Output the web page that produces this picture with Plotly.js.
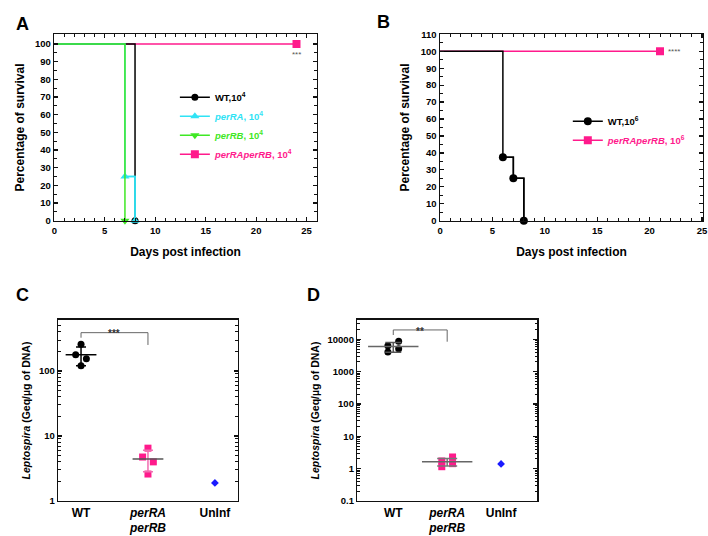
<!DOCTYPE html>
<html>
<head>
<meta charset="utf-8">
<script src="https://cdn.plot.ly/plotly-3.0.1.min.js"></script>
<style>html,body{margin:0;padding:0;background:#fff;}#chart{width:708px;height:536px;}</style>
</head>
<body>
<div id="chart"></div>
<script>
// ---------- Panel A: survival, 10^4 ----------
const daysWT_A = [0, 8];
const survWT_A = [100, 0];
const daysPerRA_A = [0, 7, 8];
const survPerRA_A = [100, 25, 0];
const daysPerRB_A = [0, 7];
const survPerRB_A = [100, 0];
const daysDbl_A = [0, 24];
const survDbl_A = [100, 100];
// ---------- Panel B: survival, 10^6 ----------
const daysWT_B = [0, 6, 7, 8];
const survWT_B = [100, 37.5, 25, 0];
const daysDbl_B = [0, 21];
const survDbl_B = [100, 100];
// ---------- Panel C: bacterial load ----------
const groupLabels = ['WT', '<i>perRA</i><br><i>perRB</i>', 'UnInf'];
const C_wt = [257, 178, 155, 120];
const C_wtJitter = [0, -0.08, 0.08, 0];
const C_dbl = [6.5, 4.75, 4.0, 2.6];
const C_dblJitter = [0, -0.08, 0.08, 0];
const C_uninf = [1.9];
const C_means = [178, 4.43];
const C_sds = [57, 1.6];
// ---------- Panel D: bacterial load ----------
const D_wt = [8800, 6300, 5100, 4100];
const D_wtJitter = [0.1, -0.1, 0.1, -0.1];
const D_dbl = [2.3, 1.73, 1.43, 1.15];
const D_dblJitter = [0.1, -0.1, 0.1, -0.1];
const D_uninf = [1.4];
const D_means = [6000, 1.65];
const D_sds = [2000, 0.43];
const C_yTicks = [1, 10, 100];
const C_yTickText = ['1', '10', '100'];
const D_yTicks = [0.1, 1, 10, 100, 1000, 10000];
const D_yTickText = ['0.1', '1', '10', '100', '1000', '10000'];

const FONT = 'Liberation Sans, Arial, sans-serif';
const BLACK = '#000000', CYAN = '#2fe3f5', GREEN = '#3fe824', PINK = '#ff1a8c', BLUE = '#1a1aff';

function stepLine(xs, ys, color, xa, ya) {
  return {x: xs, y: ys, xaxis: xa, yaxis: ya, mode: 'lines', line: {shape: 'hv', color: color, width: 1.5},
    showlegend: false, hoverinfo: 'skip', cliponaxis: false};
}
function events(xs, ys, color, symbol, size, name, legend, rank, xa, ya) {
  return {x: xs.slice(1), y: ys.slice(1), xaxis: xa, yaxis: ya, mode: 'lines+markers', name: name,
    line: {shape: 'hv', color: color, width: 1.5}, marker: {symbol: symbol, size: size, color: color},
    legend: legend, legendrank: rank, cliponaxis: false};
}
function span(color, t) { return '<span style="color:' + color + '">' + t + '</span>'; }

const traces = [];
// A (drawing order: pink, black, cyan, green)
traces.push(stepLine(daysDbl_A, survDbl_A, PINK, 'x', 'y'));
traces.push(events(daysDbl_A, survDbl_A, PINK, 'square', 8, span(PINK, '<i>perRAperRB</i>, 10<sup>4</sup>'), 'legend', 4, 'x', 'y'));
traces.push(stepLine(daysWT_A, survWT_A, BLACK, 'x', 'y'));
traces.push(events(daysWT_A, survWT_A, BLACK, 'circle', 7, 'WT,10<sup>4</sup>', 'legend', 1, 'x', 'y'));
traces.push(stepLine(daysPerRA_A, survPerRA_A, CYAN, 'x', 'y'));
traces.push(events(daysPerRA_A, survPerRA_A, CYAN, 'triangle-up', 8, span(CYAN, '<i>perRA</i>, 10<sup>4</sup>'), 'legend', 2, 'x', 'y'));
traces.push(stepLine(daysPerRB_A, survPerRB_A, GREEN, 'x', 'y'));
traces.push(events(daysPerRB_A, survPerRB_A, GREEN, 'triangle-down', 8, span(GREEN, '<i>perRB</i>, 10<sup>4</sup>'), 'legend', 3, 'x', 'y'));
// B
traces.push(stepLine(daysDbl_B, survDbl_B, PINK, 'x2', 'y2'));
traces.push(events(daysDbl_B, survDbl_B, PINK, 'square', 8, span(PINK, '<i>perRAperRB</i>, 10<sup>6</sup>'), 'legend2', 2, 'x2', 'y2'));
traces.push(stepLine(daysWT_B, survWT_B, BLACK, 'x2', 'y2'));
traces.push(events(daysWT_B, survWT_B, BLACK, 'circle', 8, 'WT,10<sup>6</sup>', 'legend2', 1, 'x2', 'y2'));

function pts(vals, jit, gi, color, symbol, size, xa, ya) {
  return {x: vals.map((v, i) => gi + jit[i]), y: vals, xaxis: xa, yaxis: ya, mode: 'markers',
    marker: {symbol: symbol, size: size, color: color}, showlegend: false, cliponaxis: false};
}
function meanSd(gi, m, sd, lineColor, errColor, len, cap, xa, ya) {
  return {x: [gi], y: [m], xaxis: xa, yaxis: ya, mode: 'markers', showlegend: false, cliponaxis: false,
    marker: {symbol: 'line-ew', size: len, color: lineColor, line: {color: lineColor, width: 1.5}},
    error_y: {type: 'data', array: [sd], visible: true, color: errColor, thickness: 1.5, width: cap}};
}
// C
traces.push(pts(C_wt, C_wtJitter, 0, BLACK, 'circle', 7, 'x3', 'y3'));
traces.push(meanSd(0, C_means[0], C_sds[0], BLACK, BLACK, 22, 5, 'x3', 'y3'));
traces.push(pts(C_dbl, C_dblJitter, 1, PINK, 'square', 7, 'x3', 'y3'));
traces.push(meanSd(1, C_means[1], C_sds[1], '#555555', '#f06cb0', 22, 5, 'x3', 'y3'));
traces.push(pts(C_uninf, [0], 2, BLUE, 'diamond', 6, 'x3', 'y3'));
// D
traces.push(pts(D_wt, D_wtJitter, 0, BLACK, 'circle', 7, 'x4', 'y4'));
traces.push(meanSd(0, D_means[0], D_sds[0], '#666666', '#555555', 36, 8, 'x4', 'y4'));
traces.push(pts(D_dbl, D_dblJitter, 1, PINK, 'square', 7, 'x4', 'y4'));
traces.push(meanSd(1, D_means[1], D_sds[1], '#666666', '#777777', 36, 10, 'x4', 'y4'));
traces.push(pts(D_uninf, [0], 2, BLUE, 'diamond', 6, 'x4', 'y4'));

const tickFont = {family: FONT, size: 9.5, color: '#000', weight: 'bold'};
const titleFont = {family: FONT, size: 12, color: '#000', weight: 'bold'};
function linAxis(extra) {
  return Object.assign({showline: true, linewidth: 1.5, linecolor: '#111', mirror: 'allticks', ticks: 'inside',
    ticklen: 4, tickwidth: 1.2, tickcolor: '#111', showgrid: false, zeroline: false, tickfont: tickFont,
    fixedrange: true}, extra);
}
const survYTitle = {text: 'Percentage of survival', font: titleFont, standoff: 8};
const survXTitle = {text: 'Days post infection', font: titleFont, standoff: 13};
const loadYTitle = {text: '<i>Leptospira</i> (Geq/µg of DNA)', font: {family: FONT, size: 10.5, color: '#000', weight: 'bold'}, standoff: 6};
const minorLin1 = {dtick: 1, ticks: 'inside', ticklen: 2.5, tickwidth: 1, tickcolor: '#111'};
const minorLin5 = {dtick: 5, ticks: 'inside', ticklen: 2.5, tickwidth: 1, tickcolor: '#111'};
const minorLog = {dtick: 'D1', ticks: 'inside', ticklen: 2.5, tickwidth: 1, tickcolor: '#111'};

const layout = {
  width: 708, height: 536, margin: {l: 0, r: 0, t: 0, b: 0},
  paper_bgcolor: '#fff', plot_bgcolor: '#fff', font: {family: FONT, color: '#000'},
  xaxis: linAxis({domain: [0.0767, 0.4473], anchor: 'y', range: [0, 26], dtick: 5, tick0: 0, minor: minorLin1, title: survXTitle}),
  yaxis: linAxis({domain: [0.5882, 0.936], anchor: 'x', range: [0, 105.5], dtick: 10, tick0: 0, minor: minorLin5, title: survYTitle}),
  xaxis2: linAxis({domain: [0.6215, 0.9929], anchor: 'y2', range: [0, 25.1], dtick: 5, tick0: 0, minor: minorLin1, title: survXTitle}),
  yaxis2: linAxis({domain: [0.5882, 0.936], anchor: 'x2', range: [0, 110], dtick: 10, tick0: 0, minor: minorLin5, title: survYTitle}),
  xaxis3: linAxis({domain: [0.0823, 0.3357], anchor: 'y3', range: [-0.34, 2.34], tickmode: 'array', tickvals: [0, 1, 2],
    ticktext: groupLabels, ticks: '', mirror: true, tickfont: {family: FONT, size: 12, color: '#000', weight: 'bold'}}),
  yaxis3: linAxis({domain: [0.0653, 0.403], anchor: 'x3', type: 'log', range: [0, 2.785], tickmode: 'array',
    tickvals: C_yTicks, ticktext: C_yTickText, minor: minorLog, title: loadYTitle}),
  xaxis4: linAxis({domain: [0.5047, 0.7585], anchor: 'y4', range: [-0.667, 2.667], tickmode: 'array', tickvals: [0, 1, 2],
    ticktext: groupLabels, ticks: '', mirror: true, tickfont: {family: FONT, size: 12, color: '#000', weight: 'bold'}}),
  yaxis4: linAxis({domain: [0.0653, 0.403], anchor: 'x4', type: 'log', range: [-1, 4.6], tickmode: 'array',
    tickvals: D_yTicks, ticktext: D_yTickText, minor: minorLog, title: loadYTitle}),
  legend: {x: 0.247, y: 0.7655, xanchor: 'left', yanchor: 'middle', bgcolor: 'rgba(0,0,0,0)',
    font: {family: FONT, size: 9.5, color: '#000', weight: 'bold'}, itemwidth: 30, tracegroupgap: 0},
  legend2: {x: 0.802, y: 0.756, xanchor: 'left', yanchor: 'middle', bgcolor: 'rgba(0,0,0,0)',
    font: {family: FONT, size: 9.5, color: '#000', weight: 'bold'}, itemwidth: 30, tracegroupgap: 0},
  shapes: [
    {type: 'line', xref: 'x3', yref: 'y3 domain', x0: 0, x1: 0, y0: 0.902, y1: 0.93, line: {color: '#666', width: 1}},
    {type: 'line', xref: 'x3', yref: 'y3 domain', x0: 0, x1: 1, y0: 0.93, y1: 0.93, line: {color: '#666', width: 1}},
    {type: 'line', xref: 'x3', yref: 'y3 domain', x0: 1, x1: 1, y0: 0.93, y1: 0.862, line: {color: '#666', width: 1}},
    {type: 'line', xref: 'x4', yref: 'y4 domain', x0: 0, x1: 0, y0: 0.917, y1: 0.945, line: {color: '#666', width: 1}},
    {type: 'line', xref: 'x4', yref: 'y4 domain', x0: 0, x1: 1, y0: 0.945, y1: 0.945, line: {color: '#666', width: 1}},
    {type: 'line', xref: 'x4', yref: 'y4 domain', x0: 1, x1: 1, y0: 0.945, y1: 0.88, line: {color: '#666', width: 1}}
  ],
  annotations: [
    {text: 'A', xref: 'paper', yref: 'paper', x: 14 / 708, y: 1 - 12 / 536, showarrow: false, font: {family: FONT, size: 18, weight: 'bold'}},
    {text: 'B', xref: 'paper', yref: 'paper', x: 383 / 708, y: 1 - 10 / 536, showarrow: false, font: {family: FONT, size: 18, weight: 'bold'}},
    {text: 'C', xref: 'paper', yref: 'paper', x: 14 / 708, y: 1 - 295 / 536, showarrow: false, font: {family: FONT, size: 18, weight: 'bold'}},
    {text: 'D', xref: 'paper', yref: 'paper', x: 313 / 708, y: 1 - 295 / 536, showarrow: false, font: {family: FONT, size: 18, weight: 'bold'}},
    {text: '***', xref: 'x', yref: 'y', x: 24, y: 100, yshift: -10, showarrow: false, font: {family: FONT, size: 8, color: '#555'}},
    {text: '****', xref: 'x2', yref: 'y2', x: 22.3, y: 100, showarrow: false, font: {family: FONT, size: 8, color: '#555'}},
    {text: '***', xref: 'x3', yref: 'y3 domain', x: 0.5, y: 0.965, showarrow: false, font: {family: FONT, size: 10, color: '#333', weight: 'bold'}},
    {text: '**', xref: 'x4', yref: 'y4 domain', x: 0.5, y: 0.98, showarrow: false, font: {family: FONT, size: 10, color: '#333', weight: 'bold'}}
  ]
};

Plotly.newPlot('chart', traces, layout, {displayModeBar: false, staticPlot: true});
</script>
</body>
</html>
